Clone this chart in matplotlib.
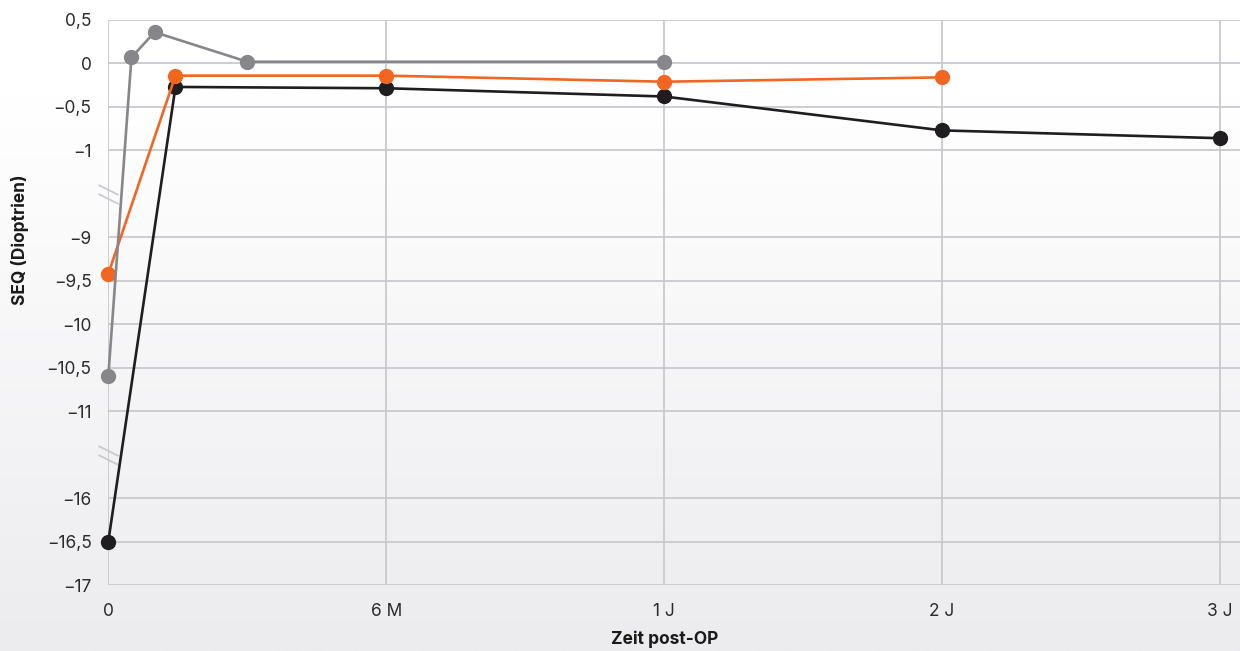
import numpy as np
import matplotlib
matplotlib.use("Agg")
import matplotlib.pyplot as plt
from matplotlib.path import Path
from matplotlib.colors import LinearSegmentedColormap

plt.rcParams['font.family'] = ['Inter', 'DejaVu Sans']

# ---- data ----
months_gray = [0, 0.5, 1, 3, 12]
seq_gray = [-10.6, 0.07, 0.36, 0.02, 0.02]
months_orange = [0, 1.45, 6, 12, 24]
seq_orange = [-9.42, -0.14, -0.14, -0.21, -0.16]
months_black = [0, 1.45, 6, 12, 24, 36]
seq_black = [-16.5, -0.27, -0.285, -0.38, -0.77, -0.86]

x_tick_months = [0, 6, 12, 24, 36]
x_tick_labels = ["0", "6 M", "1 J", "2 J", "3 J"]
y_tick_values = [0.5, 0, -0.5, -1, -9, -9.5, -10, -10.5, -11, -16, -16.5, -17]

# ---- scales (piecewise, broken y-axis) ----
xb_t = [-6, 0, 6, 12, 24, 36, 48]
xb_i = [-1, 0, 1, 2, 3, 4, 5]
def xf(t):
    return np.interp(t, xb_t, xb_i)
def xi(i):
    return np.interp(i, xb_i, xb_t)

yb_v = [-18, -17, -16, -11, -9, -1, 0.5, 1]
yb_i = [-2, 0, 2, 4, 8, 10, 13, 14]
def yf(v):
    return np.interp(v, yb_v, yb_i)
def yi(i):
    return np.interp(i, yb_i, yb_v)

W, H = 1240, 651
fig = plt.figure(figsize=(W / 100, H / 100), dpi=100, facecolor='white')

# background gradient
bg = fig.add_axes([0, 0, 1, 1], zorder=-10)
cmap = LinearSegmentedColormap.from_list('bg', [(0, '#ffffff'), (0.15, '#ffffff'), (1, '#ececef')])
grad = np.linspace(0, 1, 256).reshape(-1, 1)
bg.imshow(grad, aspect='auto', cmap=cmap, extent=[0, 1, 0, 1], origin='upper')
bg.set_axis_off()

left, right = 108.3, 1240
bottom, top = 585, 20
ax = fig.add_axes([left / W, (H - bottom) / H, (right - left) / W, (bottom - top) / H])
ax.set_facecolor('none')
ax.set_xscale('function', functions=(xf, xi))
ax.set_yscale('function', functions=(yf, yi))

grid_c = '#c9c9ce'
for s in ax.spines.values():
    s.set_visible(False)
ax.set_xticks(x_tick_months)
ax.set_xticklabels(x_tick_labels)
ax.set_yticks(y_tick_values)
ax.set_yticklabels([("0" if v == 0 else (f"{v:g}".replace('.', ',').replace('-', '\u2212'))) for v in y_tick_values])
ax.minorticks_off()
ax.grid(True, color=grid_c, linewidth=1.3, zorder=0)
ax.tick_params(axis='both', length=0, labelsize=12.5, colors='#2b2b2b')
ax.tick_params(axis='y', pad=12)
ax.tick_params(axis='x', pad=13)

ax.set_xlim(0, xi(4 + 20 / 278))
ax.set_ylim(-17, 0.5)

# break marks
brk = Path([(-10, 9.5), (10, -0.5), (-10, 0.5), (10, -9.5)],
           [Path.MOVETO, Path.LINETO, Path.MOVETO, Path.LINETO])
ax.plot([0, 0], [yi(9), yi(3)], linestyle='none', marker=brk, markersize=14.4,
        markeredgecolor='#c9c9ce', markerfacecolor='none', markeredgewidth=1.3,
        clip_on=False, zorder=2)

lw = 1.9
ms = 10
ax.plot(months_black, seq_black, color='#1f1d1f', lw=lw, marker='o', ms=ms, zorder=3, clip_on=False)
ax.plot(months_orange, seq_orange, color='#f26522', lw=lw, marker='o', ms=ms, zorder=4, clip_on=False)
ax.plot(months_gray, seq_gray, color='#87878b', lw=lw, marker='o', ms=ms, zorder=5, clip_on=False)

fig.text(20 / W, 1 - 240 / H, "SEQ (Dioptrien)", rotation=90, ha='center', va='center',
         fontsize=12.5, fontweight='bold', color='#1a1a1a')
fig.text(665 / W, 1 - 639 / H, "Zeit post-OP", ha='center', va='center',
         fontsize=12.5, fontweight='bold', color='#1a1a1a')

fig.savefig('out.png', dpi=100, facecolor=fig.get_facecolor())
